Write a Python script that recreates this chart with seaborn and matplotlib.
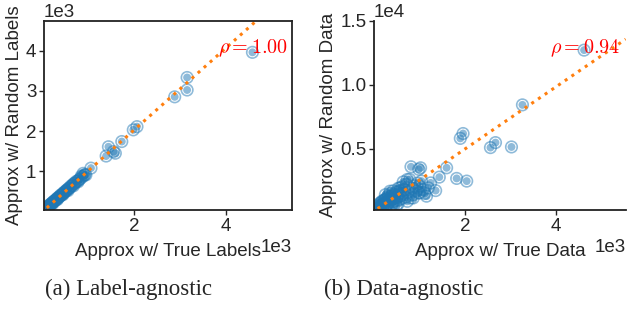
import numpy as np
import pandas as pd
import matplotlib
matplotlib.use("Agg")
import matplotlib.pyplot as plt
from matplotlib.ticker import MultipleLocator
from matplotlib.path import Path
import seaborn as sns

# (a) label-agnostic: approx w/ true labels vs approx w/ random labels
true_labels = [40, 55, 70, 80, 95, 110, 120, 135, 150, 160, 175, 190, 205, 220, 235, 250,
               265, 280, 300, 315, 330, 350, 365, 385, 400, 420, 440, 455, 475, 495, 515,
               535, 555, 575, 600, 620, 645, 665, 690, 715, 740, 770, 800, 830, 850, 870,
               890, 910, 930, 950, 1060, 1390, 1440, 1550, 1590, 1730, 1980, 2060, 2880,
               3150, 3150, 4570, 60, 140, 230, 330, 450, 560, 680, 780]
rand_labels = [35, 50, 70, 75, 100, 100, 125, 130, 140, 165, 170, 195, 200, 215, 240, 245,
               270, 275, 290, 320, 325, 355, 360, 380, 410, 415, 430, 460, 470, 500, 510,
               540, 550, 580, 590, 630, 640, 670, 700, 710, 750, 760, 790, 820, 880, 860,
               950, 900, 920, 910, 1080, 1380, 1610, 1490, 1450, 1740, 2030, 2110, 2850,
               3330, 3020, 3955, 40, 110, 200, 300, 420, 520, 640, 740]
fit_a = (1.02, -10)   # slope, intercept
rho_a = "$\\rho = 1.00$"

# (b) data-agnostic: approx w/ true data vs approx w/ random data
true_data = [30, 50, 70, 90, 110, 130, 150, 170, 190, 210, 230, 250, 270, 290, 310, 330,
             350, 360, 380, 400, 420, 430, 450, 470, 500, 520, 540, 560, 580, 600, 620,
             650, 680, 700, 720, 740, 760, 790, 820, 850, 870, 900, 930, 960, 990, 1010,
             1050, 1090, 1120, 1160, 1200, 1250, 1360, 1440, 1600, 820, 990, 1030, 740,
             1820, 2040, 1900, 1960, 2560, 2670, 3020, 3260, 4610, 210, 360, 430, 500,
             580, 650, 870, 1010, 40, 80, 120, 160, 200, 240, 280, 320, 400, 460, 540,
             620, 320, 260]
rand_data = [200, 350, 450, 250, 500, 700, 400, 600, 900, 550, 800, 1000, 650, 1100, 700,
             1200, 900, 1500, 1000, 1300, 800, 1700, 1100, 1400, 1600, 1200, 1900, 1000,
             1700, 1300, 2000, 1500, 1800, 1200, 2200, 880, 1600, 2600, 1140, 1900, 1400,
             2100, 1700, 2300, 1540, 2060, 2460, 1800, 1500, 1280, 1930, 2320, 1720, 2770,
             3500, 3580, 3380, 3500, 2590, 2670, 2460, 5800, 6180, 5080, 5470, 5130, 8420,
             12700, 880, 1670, 1140, 490, 1930, 2400, 1140, 1540, 300, 550, 300, 800, 400,
             1000, 500, 700, 600, 900, 700, 1100, 1300, 1400]
fit_b = (2.44, 86)
rho_b = "$\\rho = 0.94$"

df_a = pd.DataFrame({"x": true_labels, "y": rand_labels})
df_b = pd.DataFrame({"x": true_data, "y": rand_data})

# circle marker with a thin transparent ring inside
c = Path.unit_circle()
ring_marker = Path.make_compound_path(
    Path(c.vertices * 1.0, c.codes),
    Path(c.vertices[::-1] * 0.74, c.codes),
    Path(c.vertices * 0.60, c.codes),
)

sns.set_style("ticks")
plt.rcParams["font.family"] = ["Liberation Sans", "DejaVu Sans"]
plt.rcParams["mathtext.fontset"] = "cm"
plt.rcParams["font.size"] = 13.5

fig = plt.figure(figsize=(6.28, 3.12), dpi=100)
ax1 = fig.add_axes([0.0701, 0.3269, 0.3949, 0.6067])
ax2 = fig.add_axes([0.5955, 0.3269, 0.4008, 0.6067])

panels = [
    (ax1, df_a, fit_a, rho_a, (40, 5430), (40, 4740), 1000, "Approx w/ True Labels", "Approx w/ Random Labels"),
    (ax2, df_b, fit_b, rho_b, (10, 5520), (200, 15000), 5000, "Approx w/ True Data", "Approx w/ Random Data"),
]
for ax, d, fit, rho, xl, yl, ystep, xlab, ylab in panels:
    sns.scatterplot(data=d, x="x", y="y", ax=ax, s=90, color="#1f77b4", alpha=0.5,
                    marker=ring_marker, edgecolor="none", linewidth=0)
    xs = np.array([d["x"].min() + 60, xl[1]])
    ax.plot(xs, fit[0] * xs + fit[1], ls=":", color="#ff7f0e", lw=2.2)
    ax.text(0.70, 0.855, rho, transform=ax.transAxes, color="red", fontsize=14.5,
            va="center", ha="left")
    ax.set_xlim(xl)
    ax.set_ylim(yl)
    ax.xaxis.set_major_locator(MultipleLocator(2000))
    ax.yaxis.set_major_locator(MultipleLocator(ystep))
    ax.ticklabel_format(style="sci", scilimits=(0, 0), axis="both")
    ax.set_xlabel(xlab, fontsize=13.5, labelpad=6)
    ax.set_ylabel(ylab, fontsize=13.5, labelpad=2)
    ax.tick_params(labelsize=13.5, length=3.5, width=1, pad=2)
    for sp in ax.spines.values():
        sp.set_color("#222222")
        sp.set_linewidth(1.3)

sns.despine(ax=ax2)

fig.text(0.204, 0.074, "(a) Label-agnostic", ha="center", va="center",
         family="Liberation Serif", fontsize=16.5)
fig.text(0.643, 0.074, "(b) Data-agnostic", ha="center", va="center",
         family="Liberation Serif", fontsize=16.5)

fig.savefig("out.png", dpi=100)
